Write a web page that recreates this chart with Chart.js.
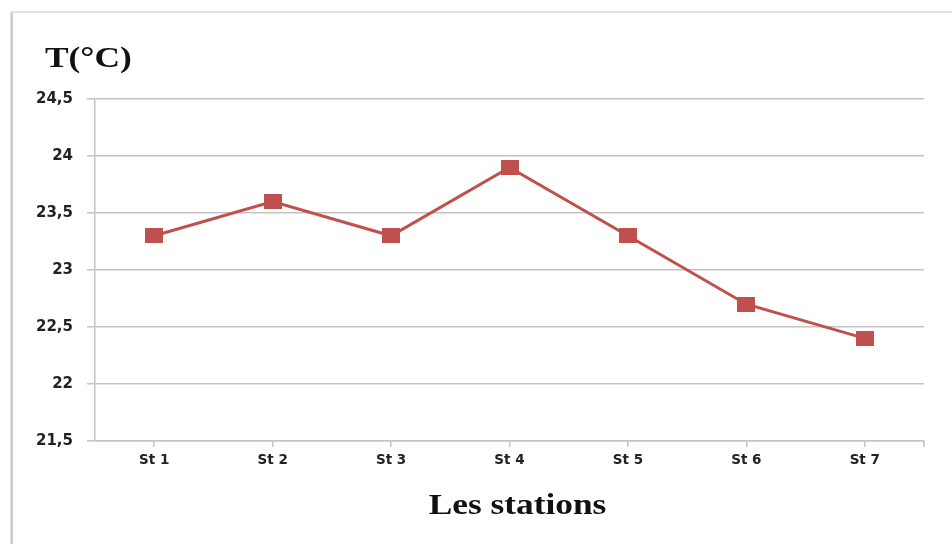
<!DOCTYPE html>
<html>
<head>
<meta charset="utf-8">
<script src="https://cdn.jsdelivr.net/npm/chart.js@4"></script>
<style>
  html, body { margin: 0; padding: 0; background: #fff; }
  #wrap { width: 952px; height: 544px; position: relative; }
</style>
</head>
<body>
<div id="wrap"><canvas id="c" width="952" height="544"></canvas></div>
<script>
// Water temperature per sampling station
const stations = ['St 1', 'St 2', 'St 3', 'St 4', 'St 5', 'St 6', 'St 7'];
const temperatures = [23.3, 23.6, 23.3, 23.9, 23.3, 22.7, 22.4];
const yMin = 21.5;
const yMax = 24.5;
const yStep = 0.5;
const yTitle = 'T(°C)';
const xTitle = 'Les stations';

const lineColor = '#C0504D';
const gridColor = '#c3c3c3';
const labelFont = { family: '"DejaVu Sans", "Open Sans", sans-serif', size: 13.5, weight: 'bold' };
const titleFont = 'bold 28.5px "Liberation Serif", "DejaVu Serif", serif';
const titleStretch = 1.24;

// Square marker, slightly wider than tall
const marker = document.createElement('canvas');
marker.width = 18;
marker.height = 15;
(function () {
  const m = marker.getContext('2d');
  m.fillStyle = lineColor;
  m.fillRect(0, 0, marker.width, marker.height);
})();

function stretchedText(ctx, text, cx, cy) {
  ctx.save();
  ctx.translate(cx, cy);
  ctx.scale(titleStretch, 1);
  ctx.fillText(text, 0, 0);
  ctx.restore();
}

// Outer frame, both titles, and the end tick on the x axis
const decorations = {
  id: 'decorations',
  beforeDraw(chart) {
    const ctx = chart.ctx;
    ctx.save();
    ctx.fillStyle = '#fff';
    ctx.fillRect(0, 0, chart.width, chart.height);
    ctx.strokeStyle = '#e4e4e4';
    ctx.lineWidth = 2;
    ctx.beginPath();
    ctx.moveTo(11, chart.height);
    ctx.lineTo(11, 12);
    ctx.lineTo(chart.width, 12);
    ctx.stroke();
    ctx.strokeStyle = '#bcbcbc';
    ctx.lineWidth = 1.5;
    ctx.beginPath();
    ctx.moveTo(12, chart.height);
    ctx.lineTo(12, 13);
    ctx.stroke();
    ctx.restore();
  },
  afterDraw(chart) {
    const ctx = chart.ctx;
    const area = chart.chartArea;
    ctx.save();
    ctx.fillStyle = '#111';
    ctx.font = titleFont;
    ctx.textBaseline = 'middle';
    ctx.textAlign = 'left';
    stretchedText(ctx, yTitle, 45, 60);
    ctx.textAlign = 'center';
    stretchedText(ctx, xTitle, (area.left + area.right) / 2 + 8, area.bottom + 66);
    ctx.strokeStyle = gridColor;
    ctx.lineWidth = 1.5;
    ctx.beginPath();
    ctx.moveTo(area.right, area.bottom);
    ctx.lineTo(area.right, area.bottom + 6);
    ctx.stroke();
    ctx.restore();
  }
};

new Chart(document.getElementById('c'), {
  type: 'line',
  data: {
    labels: stations,
    datasets: [{
      data: temperatures,
      borderColor: lineColor,
      backgroundColor: lineColor,
      borderWidth: 3,
      pointStyle: marker,
      pointRadius: 9,
      pointHoverRadius: 9,
      tension: 0
    }]
  },
  options: {
    responsive: false,
    animation: false,
    devicePixelRatio: 1,
    layout: { padding: { left: 20, right: 28, top: 99, bottom: 0 } },
    plugins: {
      legend: { display: false },
      tooltip: { enabled: false }
    },
    scales: {
      x: {
        offset: true,
        afterFit(scale) { scale.height = 103; },
        grid: {
          offset: false,
          drawOnChartArea: false,
          color: gridColor,
          lineWidth: 1.5,
          tickLength: 6
        },
        border: { color: gridColor, width: 1.5 },
        ticks: { color: '#222', font: labelFont, padding: 5 }
      },
      y: {
        min: yMin,
        max: yMax,
        afterFit(scale) { scale.width = 75; },
        ticks: {
          stepSize: yStep,
          color: '#222',
          font: { ...labelFont, size: 15 },
          padding: 14,
          callback: v => String(v).replace('.', ',')
        },
        grid: { color: gridColor, lineWidth: 1.5, tickLength: 8 },
        border: { color: gridColor, width: 1.5 }
      }
    }
  },
  plugins: [decorations]
});
</script>
</body>
</html>
